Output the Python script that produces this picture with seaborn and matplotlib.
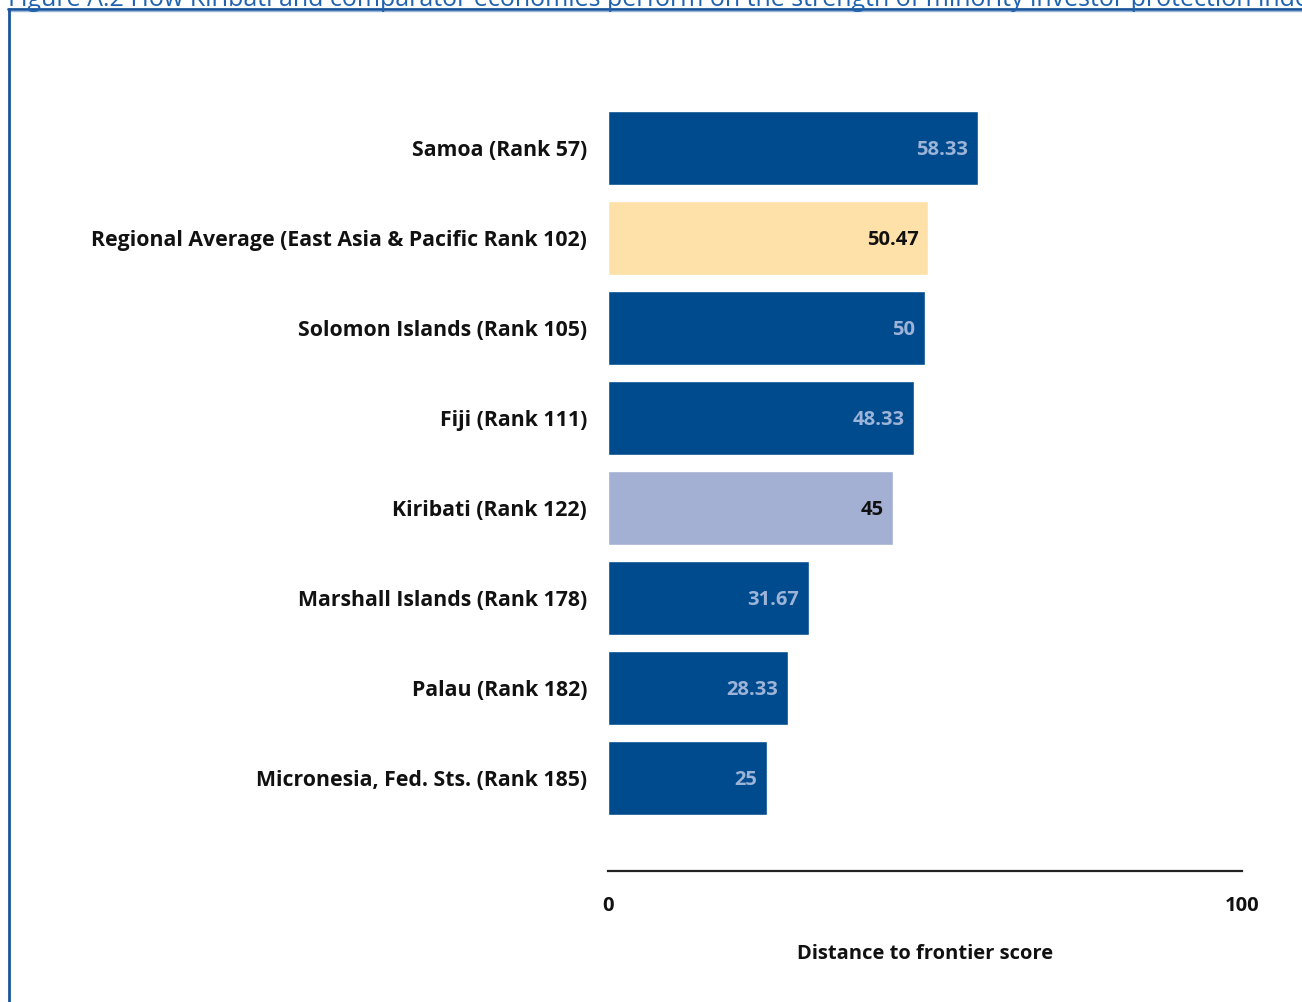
import matplotlib
matplotlib.use("Agg")
import matplotlib.pyplot as plt
import seaborn as sns
import pandas as pd
from matplotlib.lines import Line2D

categories = [
    "Samoa (Rank 57)",
    "Regional Average (East Asia & Pacific Rank 102)",
    "Solomon Islands (Rank 105)",
    "Fiji (Rank 111)",
    "Kiribati (Rank 122)",
    "Marshall Islands (Rank 178)",
    "Palau (Rank 182)",
    "Micronesia, Fed. Sts. (Rank 185)",
]
values = [58.33, 50.47, 50, 48.33, 45, 31.67, 28.33, 25]
value_labels = ["58.33", "50.47", "50", "48.33", "45", "31.67", "28.33", "25"]
tick_values = [0, 100]
tick_labels = ["0", "100"]
x_label = "Distance to frontier score"
title = ("Figure A.2 How Kiribati and comparator economies perform on the strength "
         "of minority investor protection index")

DARK = "#004b8d"
colors = [DARK, "#fee0a9", DARK, DARK, "#a3b0d4", DARK, DARK, DARK]
label_colors = ["#9db3d8", "#111111", "#9db3d8", "#9db3d8", "#111111",
                "#9db3d8", "#9db3d8", "#9db3d8"]

sns.set_theme(style="white")
plt.rcParams["font.family"] = ["Open Sans", "DejaVu Sans"]

df = pd.DataFrame({"cat": categories, "val": values})

W, H = 1302, 1002
FS = 14.5
fig = plt.figure(figsize=(W / 100, H / 100), dpi=100)
left, right = 608 / W, 1242 / W
top_px, bot_px = 58, 871
ax = fig.add_axes([left, 1 - bot_px / H, right - left, (bot_px - top_px) / H])

sns.barplot(data=df, x="val", y="cat", hue="cat", palette=colors, legend=False,
            width=0.82, ax=ax, saturation=1, order=categories, hue_order=categories)

ax.set_xlim(0, 100)
ax.set_ylim(len(categories) - 1 + 1.033, -1.0)

for i, (v, lab, c) in enumerate(zip(values, value_labels, label_colors)):
    ax.text(v - 1.5, i + 0.02, lab, ha="right", va="center", fontsize=FS,
            fontweight="bold", color=c)

ax.set_xticks(tick_values)
ax.set_xticklabels(tick_labels, fontsize=FS, fontweight="bold", color="#111111")
ax.tick_params(axis="x", length=0, pad=18)
ax.tick_params(axis="y", length=0, pad=15)
for t in ax.get_yticklabels():
    t.set_fontsize(15.3)
    t.set_fontweight("bold")
    t.set_color("#111111")
ax.set_ylabel("")
ax.set_xlabel(x_label, fontsize=FS, fontweight="bold", color="#111111", labelpad=20)

for s in ["top", "right", "left"]:
    ax.spines[s].set_visible(False)
ax.spines["bottom"].set_color("#222222")
ax.spines["bottom"].set_linewidth(1.6)

# frame lines
fig.add_artist(Line2D([8 / W, 1], [1 - 9 / H, 1 - 9 / H], transform=fig.transFigure,
                      color="#1b559b", linewidth=2))
fig.add_artist(Line2D([8 / W, 1], [1 - 11 / H, 1 - 11 / H], transform=fig.transFigure,
                      color="#9bb6d8", linewidth=1))
fig.add_artist(Line2D([9 / W, 9 / W], [0, 1 - 9 / H], transform=fig.transFigure,
                      color="#1b559b", linewidth=2))

fig.text(8 / W, 1 - 6 / H, title, ha="left", va="baseline", fontsize=18,
         color="#1f63b0")

fig.savefig("out.png", dpi=100)
